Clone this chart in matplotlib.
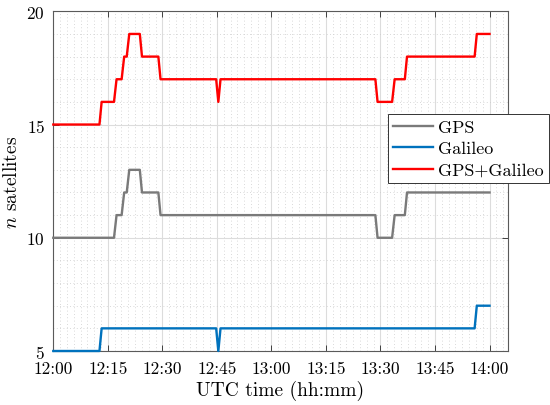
import matplotlib
matplotlib.use("Agg")
import matplotlib.pyplot as plt
from matplotlib.ticker import MultipleLocator

plt.rcParams['font.family'] = ['cmr10']
plt.rcParams['mathtext.fontset'] = 'cm'
plt.rcParams['axes.unicode_minus'] = False
plt.rcParams['axes.formatter.use_mathtext'] = True

# minutes after 12:00 UTC
gps_t = [0, 16.7, 17.4, 18.8, 19.5, 20.2, 20.9, 23.8, 24.4, 28.9, 29.5,
         88.6, 89.2, 93.2, 93.9, 96.7, 97.3, 120]
gps_n = [10, 10, 11, 11, 12, 12, 13, 13, 12, 12, 11,
         11, 10, 10, 11, 11, 12, 12]

gal_t = [0, 12.7, 13.3, 44.8, 45.4, 46.0, 115.9, 116.5, 120]
gal_n = [5, 5, 6, 6, 5, 6, 6, 7, 7]

sum_t = [0, 12.7, 13.3, 16.7, 17.4, 18.8, 19.5, 20.2, 20.9, 23.8, 24.4,
         28.9, 29.5, 44.8, 45.4, 46.0, 88.6, 89.2, 93.2, 93.9, 96.7, 97.3,
         115.9, 116.5, 120]
sum_n = [15, 15, 16, 16, 17, 17, 18, 18, 19, 19, 18,
         18, 17, 17, 16, 17, 17, 16, 16, 17, 17, 18,
         18, 19, 19]

xtick_pos = [0, 15, 30, 45, 60, 75, 90, 105, 120]
xtick_labels = ['12:00', '12:15', '12:30', '12:45', '13:00', '13:15',
                '13:30', '13:45', '14:00']
ytick_pos = [5, 10, 15, 20]

fig = plt.figure(figsize=(5.5, 4.06), dpi=100)
ax = fig.add_axes([0.0969, 0.133, 0.8262, 0.8367])

ax.plot(gps_t, gps_n, color='#7a7a7a', lw=1.7, label='GPS', clip_on=False, zorder=3)
ax.plot(gal_t, gal_n, color='#0072BD', lw=1.7, label='Galileo', clip_on=False, zorder=3)
ax.plot(sum_t, sum_n, color='#ff0000', lw=1.7, label='GPS+Galileo', clip_on=False, zorder=3)

ax.set_xlim(0, 125)
ax.set_ylim(5, 20)
ax.set_xticks(xtick_pos)
ax.set_xticklabels(xtick_labels)
ax.set_yticks(ytick_pos)
ax.xaxis.set_minor_locator(MultipleLocator(15 / 8))
ax.yaxis.set_minor_locator(MultipleLocator(1))

ax.grid(True, which='major', color='#dcdcdc', lw=0.8, ls='-')
ax.grid(True, which='minor', color='#cccccc', lw=0.6, ls=(0, (1, 3)))
ax.set_axisbelow(True)

ax.tick_params(which='major', direction='in', length=4, width=0.7,
               top=True, right=True, labelsize=12.5, color='#404040')
ax.tick_params(axis='x', which='major', pad=7)
ax.tick_params(axis='y', which='major', pad=6)
ax.tick_params(which='minor', length=0)
for s in ax.spines.values():
    s.set_color('#5a5a5a')
    s.set_linewidth(0.8)

ax.set_xlabel('UTC time (hh:mm)', fontsize=14, labelpad=3)
ax.set_ylabel(r'$n$ satellites', fontsize=14, labelpad=4)

leg = ax.legend(loc='upper left', bbox_to_anchor=(388 / 550, 1 - 115 / 406),
                bbox_transform=fig.transFigure, borderaxespad=0,
                fontsize=13, handlelength=2.2, handletextpad=0.25,
                borderpad=0.3, labelspacing=0.32, fancybox=False,
                framealpha=1, edgecolor='#333333')
leg.get_frame().set_linewidth(0.7)

fig.savefig('out.png', dpi=100)
